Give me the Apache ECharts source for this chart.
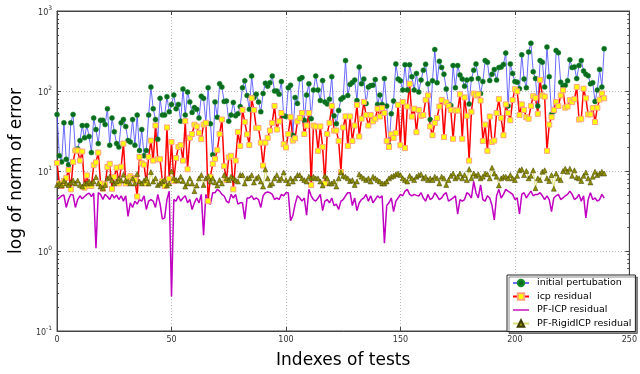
<!DOCTYPE html>
<html><head><meta charset="utf-8">
<script src="https://cdn.jsdelivr.net/npm/echarts@6/dist/echarts.min.js"></script>
<style>html,body{margin:0;padding:0;background:#fff}#c{width:640px;height:374px}</style>
</head><body><div id="c"></div>
<script>
const seriesNames = ['initial pertubation', 'icp residual', 'PF-ICP residual', 'PF-RigidICP residual'];
const xTicks = [0, 50, 100, 150, 200, 250];
const yTicks = [0.1, 1, 10, 100, 1000];

const initialPertubation = [
51,15.5,13,40,14,12,40,51,18,19,
24,37,26,37,27,17,46,33,22,43,
43,38,60,21,46,31,22,20,40,44,
36,24,23,44,21,50,18,33,15.5,18,
50,112,60,44,25,81,50,50,85,55,
68,89,60,68,42,106,50,97,73,54,
62,59,46,86,81,40,110,39,16,73,
47,123,112,74,75,42,50,72,49,52,
64,110,134,88,59,154,83,91,73,55,
93,125,115,127,154,100,100,91,131,49,
48,110,118,28,83,70,141,147,43,89,
123,45,103,154,103,76,135,73,69,79,
151,49,39,57,79,83,240,88,121,128,
137,76,200,123,141,70,112,117,118,139,
68,89,68,143,65,21,52,75,218,141,
134,103,213,103,213,151,103,166,97,137,
182,216,123,44,134,330,127,235,197,162,
106,68,66,208,110,208,159,141,115,137,
69,141,182,218,143,93,131,240,229,135,
162,186,137,196,200,215,298,65,218,166,
131,129,107,284,141,110,307,396,174,143,
65,240,229,112,355,151,51,56,321,301,
129,115,118,134,246,196,200,143,209,240,
178,162,155,123,127,74,103,186,112,338];

const icpResidual = [
12.6,7,6.5,7.5,8.2,10.3,5.9,13,18,18,
13.5,17.5,6.2,8.8,6.5,6.5,11.8,12.8,17,7,
6,6.8,11.2,12.3,6,8.4,11,7,11.3,22,
7,8.2,8.6,8.2,7.7,4.8,15,12.5,12,7,
15,24,13.5,37,14,14,7.5,6.5,35,8,
23,7.5,14.5,20,21,13.5,42,10.5,26,29,
38,36,30,25,38,40,4.2,8.5,12.3,14.2,
18.2,29,44,11.5,7.7,14.8,15.5,5.9,13.5,30.6,
20.6,58,41,28.7,21.2,81,58,34.6,34.6,22.6,
11.7,22.6,26,32,40,65,33,41.7,53,21.6,
19.7,29,47,24,25.6,41.7,46,53,29,37,
53,6.7,37,36,17.9,36,20,7,29,40,
65,32,32,23.8,9.7,35,48,20.6,48,23.8,
37,67,27,45,73,50,37,50,41.7,45,
60,48,61,53,23.8,20,28.7,26,30,67,
21,73,19.3,64,123,48,60,30.6,58,49,
50,77,88,36,28,40,46,64,77,26.5,
72,65,58,25.3,57,57,91,25.3,83,49,
13.5,55,93,88,91,76,23.8,38,17.9,48,
23,24,53,79,46,28,68,53,43,77,
105,99,50,68,58,47,45,65,86,82,
52,138,88,85,17.9,38,47,58,73,65,
88,102,62,64,77,73,79,112,44,45,
107,81,51,51,61,41,62,78,93,81];

const pfIcpResidual = [
4.4,4.6,4.9,5.0,3.5,4.4,5.1,5.0,3.5,4.4,
4.9,4.5,4.8,5.1,5.3,4.8,5.3,1.08,5.35,5.1,
4.4,5.1,4.8,4.4,5.1,4.6,5.0,4.4,4.9,4.2,
4.9,2.7,4.0,3.5,4.2,3.85,4.4,4.2,4.9,3.3,
4.2,4.4,4.2,3.5,5.1,3.85,2.5,2.6,4.4,5.6,
0.27,4.4,4.2,4.9,4.2,4.6,4.9,4.0,4.4,3.3,
4.0,4.6,4.0,5.1,1.57,5.1,4.0,3.85,5.35,5.35,
5.9,5.6,5.1,4.87,4.2,4.0,5.1,4.6,5.1,3.85,
4.0,4.0,2.5,4.6,4.6,4.9,4.4,4.6,4.4,3.5,
4.9,5.35,5.45,5.35,5.1,4.4,4.6,4.4,5.1,4.9,
5.35,5.35,2.4,2.77,3.85,4.9,4.6,4.2,4.6,2.8,
5.9,4.9,4.4,4.2,4.6,5.1,3.2,4.2,4.4,4.0,
4.6,3.7,3.85,3.3,4.2,4.4,4.9,5.35,5.35,3.7,
4.6,3.2,4.0,4.4,4.6,5.1,4.2,4.9,4.0,4.4,
4.9,4.6,4.9,1.25,3.7,4.0,4.6,3.1,4.2,4.6,
5.1,4.9,5.6,5.9,5.1,4.9,5.1,4.96,4.87,5.35,
4.6,4.2,5.1,4.4,4.6,5.35,4.9,4.4,4.6,5.1,
5.35,4.2,4.4,4.6,4.9,2.9,4.4,4.2,4.4,5.35,
5.1,4.6,7.4,5.35,4.6,6.7,4.4,4.2,4.9,4.6,
3.7,2.45,4.9,5.9,4.6,5.1,5.9,5.6,5.35,5.1,
4.4,4.6,2.9,5.1,5.35,4.6,5.1,5.6,4.9,5.1,
5.1,5.35,4.9,4.4,4.9,4.4,3.1,4.6,4.9,5.1,
4.4,4.6,4.9,5.1,5.6,5.1,4.4,4.6,5.1,4.2,
4.9,2.6,4.4,5.35,4.4,4.6,4.2,4.4,5.1,4.6];

const pfRigidIcpResidual = [
6.7,7.0,6.6,7.5,7.0,6.7,7.2,7.6,7.0,7.6,
6.7,6.4,7.0,7.0,7.4,7.0,7.4,8.4,7.0,6.4,
6.1,6.7,8.1,8.5,7.6,7.0,7.4,8.1,7.6,9.0,
7.6,7.4,7.0,8.1,7.0,9.2,7.4,7.0,7.6,8.1,
7.0,9.7,7.4,8.1,6.7,7.0,7.4,7.7,6.6,7.0,
9.9,8.2,7.7,7.6,8.5,7.5,6.4,7.0,8.1,7.0,
5.6,6.6,8.1,8.9,6.7,8.1,8.5,7.4,8.1,7.2,
6.6,7.7,7.0,8.9,8.1,7.7,8.5,8.1,7.7,7.4,
8.9,8.9,7.0,8.1,8.2,8.9,7.2,8.1,8.5,7.4,
6.4,10.5,8.1,6.7,7.0,8.1,8.9,7.7,8.1,9.6,
7.7,7.0,8.1,7.4,8.1,8.9,8.9,8.1,7.7,7.4,
8.5,8.1,8.5,8.1,8.1,7.4,6.6,8.7,8.1,7.0,
7.0,7.4,6.4,8.1,9.6,8.7,8.5,8.1,7.5,7.7,
6.7,7.4,9.1,8.5,8.1,7.7,8.1,7.4,8.5,8.1,
7.7,7.4,7.0,7.0,7.4,8.1,8.5,8.7,9.1,9.3,
8.9,8.1,7.7,7.4,8.7,8.1,7.7,8.5,8.9,9.1,
8.1,8.5,7.7,8.1,7.7,8.5,8.1,7.0,8.5,8.1,
6.7,7.7,8.7,9.3,8.1,8.5,9.3,8.1,8.9,7.7,
10.5,8.1,9.3,8.7,9.1,8.1,8.5,9.3,9.1,8.1,
11.0,9.3,8.5,6.6,8.1,8.5,8.5,8.1,8.9,8.1,
7.7,8.7,10.2,10.5,8.9,10.0,8.1,8.7,10.2,6.1,
8.1,7.7,9.8,10.2,8.1,7.5,8.9,6.0,9.3,8.1,
7.7,10.0,10.7,9.8,10.7,8.7,10.2,8.3,8.1,7.5,
8.7,9.6,8.1,7.2,8.5,9.8,8.9,9.3,9.8,9.3];

const toPairs = arr => arr.map((v, i) => [i, v]);
const FONT = 'DejaVu Sans';
const tickLbl = { fontFamily: FONT, fontSize: 8, color: '#333' };
const splitLine = { show: true, lineStyle: { color: '#aaa', type: [1, 2], width: 0.8 } };

const chart = echarts.init(document.getElementById('c'), null, { renderer: 'canvas' });
chart.setOption({
  animation: false,
  backgroundColor: '#fff',
  grid: { left: 54, top: 11, width: 585, height: 326, show: true, borderColor: '#444', borderWidth: 1, backgroundColor: 'transparent' },
  xAxis: [{
    type: 'value', min: xTicks[0], max: xTicks[xTicks.length - 1], interval: 50,
    name: 'Indexes of tests', nameLocation: 'middle', nameGap: 21,
    nameTextStyle: { fontFamily: FONT, fontSize: 17, color: '#000' },
    axisLine: { show: true, onZero: false, lineStyle: { color: '#444' } },
    axisTick: { show: true, inside: true, length: 4, lineStyle: { color: '#444' } },
    axisLabel: Object.assign({ margin: 5 }, tickLbl),
    splitLine: splitLine
  }, {
    type: 'value', position: 'top', min: 0, max: 250, interval: 50,
    axisLine: { show: true, onZero: false, lineStyle: { color: '#444' } },
    axisTick: { show: true, inside: true, length: 4, lineStyle: { color: '#444' } },
    axisLabel: { show: false }, splitLine: { show: false }
  }],
  yAxis: [{
    type: 'log', logBase: 10, min: yTicks[0], max: yTicks[yTicks.length - 1],
    name: 'log of norm of error', nameLocation: 'middle', nameGap: 26,
    nameTextStyle: { fontFamily: FONT, fontSize: 17, color: '#000' },
    axisLine: { show: true, onZero: false, lineStyle: { color: '#444' } },
    axisTick: { show: true, inside: true, length: 4, lineStyle: { color: '#444' } },
    minorTick: { show: true, splitNumber: 9, length: 2, lineStyle: { color: '#444' } },
    axisLabel: {
      margin: 5,
      formatter: v => '{b|10}{s|' + Math.round(Math.log10(v)) + '}',
      rich: {
        b: { fontFamily: FONT, fontSize: 8, color: '#333', verticalAlign: 'bottom' },
        s: { fontFamily: FONT, fontSize: 6, color: '#333', verticalAlign: 'bottom', padding: [0, 0, 5, 0] }
      }
    },
    splitLine: splitLine
  }, {
    type: 'log', logBase: 10, min: 0.1, max: 1000, position: 'right',
    axisLine: { show: true, onZero: false, lineStyle: { color: '#444' } },
    axisTick: { show: true, inside: true, length: 4, lineStyle: { color: '#444' } },
    minorTick: { show: true, splitNumber: 9, length: 2, lineStyle: { color: '#444' } },
    axisLabel: { show: false }, splitLine: { show: false }
  }],
  legend: {
    left: 507, top: 275, orient: 'vertical',
    backgroundColor: '#fff', borderColor: '#222', borderWidth: 1, borderRadius: 0,
    shadowColor: 'rgba(0,0,0,0.45)', shadowOffsetX: 2, shadowOffsetY: 2, shadowBlur: 0,
    padding: [3, 4, 3, 5], itemGap: 3.5, itemWidth: 16, itemHeight: 8,
    textStyle: { fontFamily: FONT, fontSize: 9.5, lineHeight: 10, color: '#000', padding: [0, 0, 0, 3] },
    data: [
      { name: seriesNames[0] },
      { name: seriesNames[1] },
      { name: seriesNames[2], icon: 'path://M0,3.3L16,3.3L16,4.7L0,4.7Z', itemStyle: { color: '#c000c0' } },
      { name: seriesNames[3] }
    ]
  },
  series: [{
    name: seriesNames[0], type: 'line', data: toPairs(initialPertubation),
    symbol: 'circle', symbolSize: 5,
    lineStyle: { color: 'rgba(70,70,255,0.8)', width: 1 },
    itemStyle: { color: '#0a6a1e', borderColor: '#148c2a', borderWidth: 0.5 }
  }, {
    name: seriesNames[1], type: 'line', data: toPairs(icpResidual),
    symbol: 'rect', symbolSize: 5,
    lineStyle: { color: '#ff0000', width: 1.5 },
    itemStyle: { color: '#ffff00', borderColor: '#ffa080', borderWidth: 1 }
  }, {
    name: seriesNames[2], type: 'line', data: toPairs(pfIcpResidual),
    symbol: 'none', showSymbol: false,
    lineStyle: { color: '#c000c0', width: 1.5 },
    itemStyle: { color: '#c000c0' }
  }, {
    name: seriesNames[3], type: 'line', data: toPairs(pfRigidIcpResidual),
    symbol: 'triangle', symbolSize: 5,
    lineStyle: { color: 'rgba(215,215,90,0.85)', width: 1 },
    itemStyle: { color: '#8f8f00', borderColor: '#3c3c00', borderWidth: 0.5 }
  }]
});
</script>
</body></html>
